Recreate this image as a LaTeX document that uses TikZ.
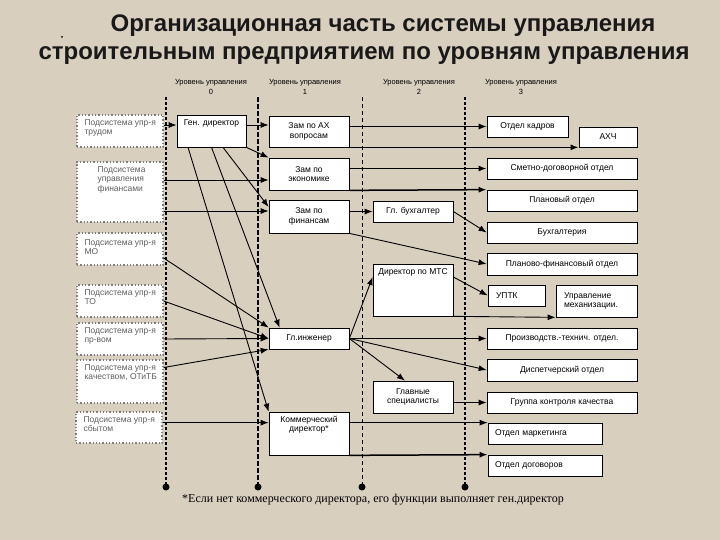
\documentclass[tikz,border=0pt]{standalone}
\usepackage{fontspec}
\setmainfont{Liberation Serif}
\newfontfamily\arialfont{Liberation Sans}
\usepackage{tikz}
\usetikzlibrary{arrows,arrows.meta}
\usepackage{xcolor}
\definecolor{slide}{RGB}{216,207,191}
\definecolor{subgray}{RGB}{95,95,95}
\newcommand{\unitfont}{\arialfont\fontsize{8.5}{9.5}\selectfont}
\newcommand{\levelfont}{\arialfont\fontsize{7.5}{10}\selectfont}

\begin{document}
\begin{tikzpicture}[x=1pt, y=-1pt, >={Latex[length=8pt,width=6pt]},
    unit/.style={draw, fill=white, line width=0.7pt, inner sep=0pt, align=center, font=\unitfont},
    sub/.style={draw=gray, dotted, line width=1.3pt, fill=white, inner sep=0pt, minimum width=86, minimum height=32},
    subtext/.style={anchor=north west, inner sep=0pt, align=left, text=subgray, font=\unitfont, xshift=8pt, yshift=-5pt},
    toptext/.style={anchor=north, inner sep=0pt, align=center, font=\unitfont, yshift=-5pt},
    link/.style={->, line width=0.9pt},
    heavy/.style={link, line width=1.5pt},
    lvl/.style={line width=1.8pt, dash pattern=on 3pt off 2pt},
    lvlthin/.style={line width=0.8pt, dash pattern=on 4pt off 3pt},
    enddot/.style={circle, fill=black, inner sep=0pt, minimum size=7pt},
    lvltext/.style={font=\levelfont, align=center, inner sep=0pt}]

\fill[slide] (0,0) rectangle (720,540);

\node[font=\arialfont\bfseries\fontsize{24}{28}\selectfont, text=black!90] (title1) at (383,25.5) {Организационная часть системы управления};
\node[font=\arialfont\bfseries\fontsize{24}{28}\selectfont, text=black!90] (title2) at (364,56) {строительным предприятием по уровням управления};
\node[circle, fill=black, inner sep=0pt, minimum size=2pt] (bullet) at (62,37) {};

\node[lvltext] (lev0) at (211,87) {Уровень управления\\0};
\node[lvltext] (lev1) at (305,87) {Уровень управления\\1};
\node[lvltext] (lev2) at (419,87) {Уровень управления\\2};
\node[lvltext] (lev3) at (521,87) {Уровень управления\\3};

\coordinate (s0) at (166,97);
\coordinate (s1) at (258,97);
\coordinate (s2) at (362,97);
\coordinate (s3) at (465,97);
\node[enddot] (e0) at (166,487) {};
\node[enddot] (e1) at (258,487) {};
\node[enddot] (e2) at (362,487) {};
\node[enddot] (e3) at (465,487) {};
\draw[lvl] (s0) -- (e0.center);
\draw[lvl, dash pattern=on 5pt off 2pt] (s1) -- (e1.center);
\draw[lvlthin] (s2) -- (e2.center);
\draw[lvl] (s3) -- (e3.center);

\node[sub, label={[subtext]north west:{Подсистема упр-я\\трудом}}] (labA) at (120,131) {};
\node[sub, minimum height=60, label={[subtext, xshift=13pt]north west:{Подсистема\\управления\\финансами}}] (labF) at (120,192) {};
\node[sub, label={[subtext, yshift=-2pt]north west:{Подсистема упр-я\\МО}}] (labMO) at (120,249) {};
\node[sub, label={[subtext]north west:{Подсистема упр-я\\ТО}}] (labTO) at (120,301) {};
\node[sub, label={[subtext]north west:{Подсистема упр-я\\пр-вом}}] (labPR) at (120,339) {};
\node[sub, minimum height=43, label={[subtext]north west:{Подсистема упр-я\\качеством, ОТиТБ}}] (labQ) at (120,381.5) {};
\node[sub, minimum height=31, label={[subtext]north west:{Подсистема упр-я\\сбытом}}] (labS) at (119,427.5) {};

\node[unit, minimum width=69, minimum height=32, label={[toptext]north:Ген. директор}] (gen) at (211.5,131) {};

\node[unit, minimum width=80, minimum height=31] (zAH) at (309,131.5) {Зам по АХ\\вопросам};
\node[unit, minimum width=80, minimum height=32] (zEk) at (309,174) {Зам по\\экономике};
\node[unit, minimum width=80, minimum height=33] (zFin) at (309,216.5) {Зам по\\финансам};
\node[unit, minimum width=80, minimum height=21] (gInzh) at (309,338.5) {Гл.инженер};
\node[unit, minimum width=80, minimum height=43, label={[toptext, yshift=1pt]north:{Коммерческий\\директор*}}] (kom) at (309,433.5) {};

\node[unit, minimum width=80, minimum height=21] (gBuh) at (413,211.5) {Гл. бухгалтер};
\node[unit, minimum width=80, minimum height=52, label={[toptext]north:Директор по МТС}] (mts) at (413,290) {};
\node[unit, minimum width=80, minimum height=32] (glSpec) at (413,397) {Главные\\специалисты};

\node[unit, minimum width=81, minimum height=21] (kadr) at (527.5,126.5) {Отдел кадров};
\node[unit, minimum width=58, minimum height=20] (ahch) at (608,137) {АХЧ};
\node[unit, minimum width=150, minimum height=21] (smet) at (562,168.5) {Сметно-договорной отдел};
\node[unit, minimum width=150, minimum height=21] (plan) at (562,200.5) {Плановый отдел};
\node[unit, minimum width=150, minimum height=21] (buh) at (562,232.5) {Бухгалтерия};
\node[unit, minimum width=150, minimum height=22] (pfin) at (562,264) {Планово-финансовый отдел};
\node[unit, minimum width=57, minimum height=21, text width=41, align=left] (uptk) at (516.5,295.5) {УПТК};
\node[unit, minimum width=81, minimum height=32, text width=65, align=left] (meh) at (596.5,301) {Управление\\механизации.};
\node[unit, minimum width=150, minimum height=21] (pto) at (562,338.5) {Производств.-технич. отдел.};
\node[unit, minimum width=150, minimum height=22] (disp) at (562,370) {Диспетчерский отдел};
\node[unit, minimum width=150, minimum height=21] (gkk) at (562,402.5) {Группа контроля качества};
\node[unit, minimum width=114, minimum height=21, text width=100, align=left] (mark) at (545,433.5) {Отдел маркетинга};
\node[unit, minimum width=114, minimum height=21, text width=100, align=left] (dog) at (545,465.5) {Отдел договоров};

\node[font=\fontsize{12}{14}\selectfont] (note) at (373,500) {*Если нет коммерческого директора, его функции выполняет ген.директор};

\draw[link] ([yshift=6pt]labA.east) -- ([yshift=6pt]gen.west);
\draw[link] ([yshift=6pt]gen.east) -- ([yshift=6pt]gen.east -| zAH.west);
\draw[link] (gen.south east) -- (zEk.north west);
\draw[link] ([xshift=11.5pt]gen.south) -- ([yshift=9.5pt]zFin.west);
\draw[link] (gen.south) -- ([xshift=11pt]gInzh.north west);
\draw[link] ([xshift=-23.5pt]gen.south) -- (kom.north west);
\draw[link] ([yshift=-6pt]zEk.west -| labF.east) -- ([yshift=-6pt]zEk.west);
\draw[link] ([yshift=5.5pt]zFin.west -| labF.east) -- ([yshift=5.5pt]zFin.west);
\draw[link] (zAH.east |- kadr.west) -- (kadr.west);
\draw[heavy] (zAH.south east) -- (ahch.south west);
\draw[heavy] (zEk.east |- smet.west) -- (smet.west);
\draw[heavy] (zEk.south east) -- (plan.north west);
\draw[link] (zFin.east |- gBuh.west) -- (gBuh.west);
\draw[link] (gBuh.east) -- (buh.west);
\draw[link] (zFin.south east) -- (pfin.west);
\draw[link] ([yshift=13pt]mts.east) -- (uptk.west);
\draw[link] (mts.south east) -- (meh.south west);
\draw[link] (gInzh.east) -- ([yshift=13pt]mts.west);
\draw[link] (gInzh.east) -- (pto.west);
\draw[link] (gInzh.east) -- (disp.west);
\draw[link] (gInzh.east) -- ([xshift=-8pt]glSpec.north);
\draw[link] (glSpec.east |- gkk.west) -- (gkk.west);
\draw[link] ([yshift=-9pt]labMO.east) -- (gInzh.north west);
\draw[link] (labTO.east) -- (gInzh.west);
\draw[link] (labPR.east) -- (gInzh.west);
\draw[link] ([yshift=14pt]labQ.east) -- (gInzh.south west);
\draw[link] (labS.east |- mark.north) -- (kom.west |- mark.north);
\draw[link] (kom.east |- mark.north) -- (mark.north west);
\draw[heavy] (kom.south east) -- (dog.north west);
\end{tikzpicture}
\end{document}
